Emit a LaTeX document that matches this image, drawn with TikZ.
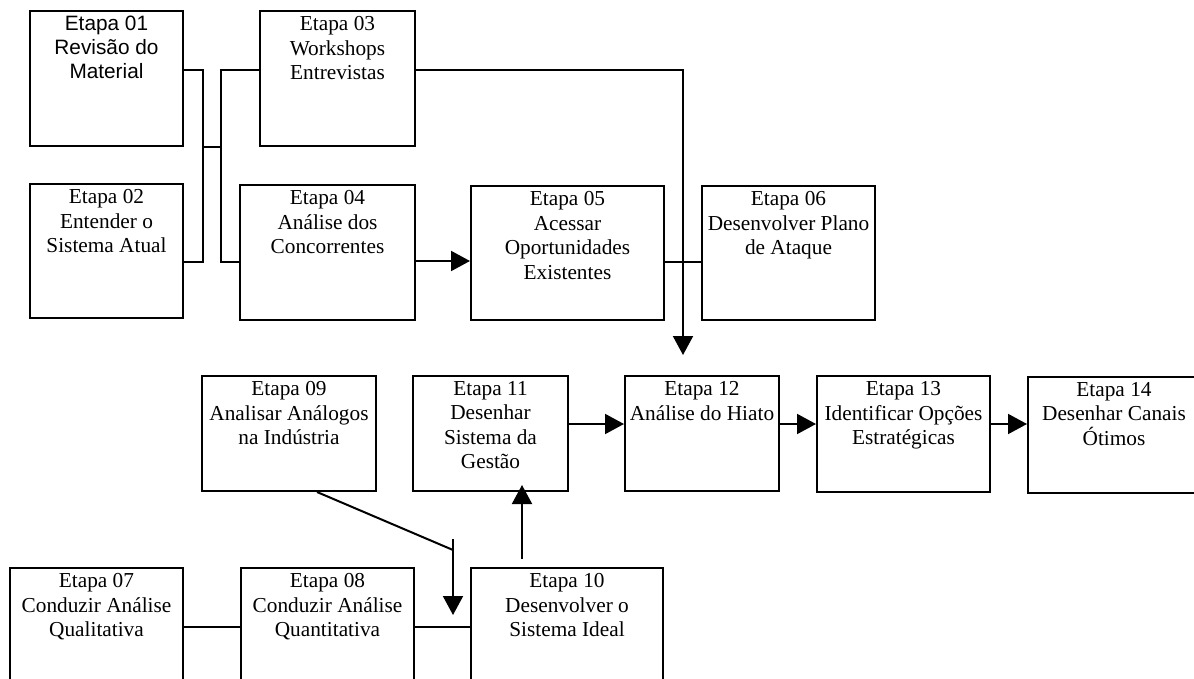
\documentclass[tikz,border=0pt]{standalone}
\usepackage{fontspec}
\setmainfont{Liberation Serif}
\newfontfamily\arialfont{Liberation Sans}
\usetikzlibrary{arrows.meta,fit,calc}

% one stage: optional text style, name, corners (x1,y1) (x2,y2), text
\newcommand\stage[7][]{%
  \node[stagebox,fit={(#3,#4)(#5,#6)}] (s#2) {};
  \node[stagetext,#1] (t#2) at ([yshift=-3pt]s#2.north) {#7};}

\begin{document}
\begin{tikzpicture}[x=0.5pt,y=-0.5pt,
  stagebox/.style={draw,line width=1pt,rectangle,inner sep=0pt},
  stagetext/.style={anchor=north,inner sep=0pt,align=center,
    font=\fontsize{10.65}{12.25}\selectfont},
  sanstext/.style={font=\arialfont\fontsize{10.4}{12}\selectfont},
  link/.style={line width=1pt},
  flow/.style={line width=1pt,-{Triangle[length=9.5pt,width=10pt]}}]
\useasboundingbox (0,0) rectangle (1194,679);
\fill[white] (0,0) rectangle (1194,679);
\clip (0,0) rectangle (1194,679);

% upper row
\stage[sanstext]{01}{30}{11}{183}{146}{Etapa 01\\Revisão do\\Material}
\stage{02}{30}{184}{183}{318}{Etapa 02\\Entender o\\Sistema Atual}
\stage{03}{260}{11}{415}{146}{Etapa 03\\Workshops\\Entrevistas}
\stage{04}{240}{185}{415}{320}{Etapa 04\\Análise dos\\Concorrentes}
\stage{05}{471}{186}{664}{320}{Etapa 05\\Acessar\\Oportunidades\\Existentes}
\stage{06}{702}{186}{875}{320}{Etapa 06\\Desenvolver Plano\\de Ataque}

% middle row
\stage{09}{202}{376}{376}{491}{Etapa 09\\Analisar Análogos\\na Indústria}
\stage{11}{413}{376}{568}{491}{Etapa 11\\Desenhar\\Sistema da\\Gestão}
\stage{12}{625}{376}{779}{491}{Etapa 12\\Análise do Hiato}
\stage{13}{817}{376}{990}{492}{Etapa 13\\Identificar Opções\\Estratégicas}
\stage{14}{1028}{377}{1200}{493}{Etapa 14\\Desenhar Canais\\Ótimos}

% lower row
\stage{07}{10}{568}{183}{720}{Etapa 07\\Conduzir Análise\\Qualitativa}
\stage{08}{241}{568}{414}{720}{Etapa 08\\Conduzir Análise\\Quantitativa}
\stage{10}{471}{568}{663}{720}{Etapa 10\\Desenvolver o\\Sistema Ideal}

% bus joining stages 01-04
\coordinate (b1) at (203,70);
\coordinate (b2) at (203,262);
\coordinate (bj) at (203,147);
\coordinate (c1) at (221,70);
\coordinate (c2) at (221,262);
\coordinate (cj) at (221,147);
\draw[link] (s01.east |- b1) -- (b1) -- (b2) -- (s02.east |- b2);
\draw[link] (bj) -- (cj);
\draw[link] (s03.west |- c1) -- (c1) -- (c2) -- (s04.west |- c2);

% stage 03 down towards stage 12
\coordinate (r0) at (683,70);
\coordinate (r1) at (683,355);
\draw[flow] (s03.east |- r0) -- (r0) -- (r1);

% stages 04 -> 05 -> 06
\coordinate (m1) at (0,261);
\coordinate (m2) at (0,262);
\draw[flow] (s04.east |- m1) -- (s05.west |- m1);
\draw[link] (s05.east |- m2) -- (s06.west |- m2);

% stages 11 -> 12 -> 13 -> 14
\coordinate (p1) at (0,424);
\draw[flow] (s11.east |- p1) -- (s12.west |- p1);
\draw[flow] (s12.east |- p1) -- (s13.west |- p1);
\draw[flow] (s13.east |- p1) -- (s14.west |- p1);

% stages 07 - 08 - 10
\coordinate (q1) at (0,627);
\draw[link] (s07.east |- q1) -- (s08.west |- q1);
\draw[link] (s08.east |- q1) -- (s10.west |- q1);

% stage 09 down to the lower row
\coordinate (k) at (453,550);
\coordinate (k0) at (453,539);
\coordinate (k1) at (453,615);
\draw[link] ($(s09.south)+(28,0)$) -- (k);
\draw[flow] (k0) -- (k1);

% stage 10 up to stage 11
\coordinate (u) at (522,0);
\draw[flow] ($(s10.north -| u)+(0,-8)$) -- ($(s11.south -| u)+(0,-7)$);
\end{tikzpicture}
\end{document}
